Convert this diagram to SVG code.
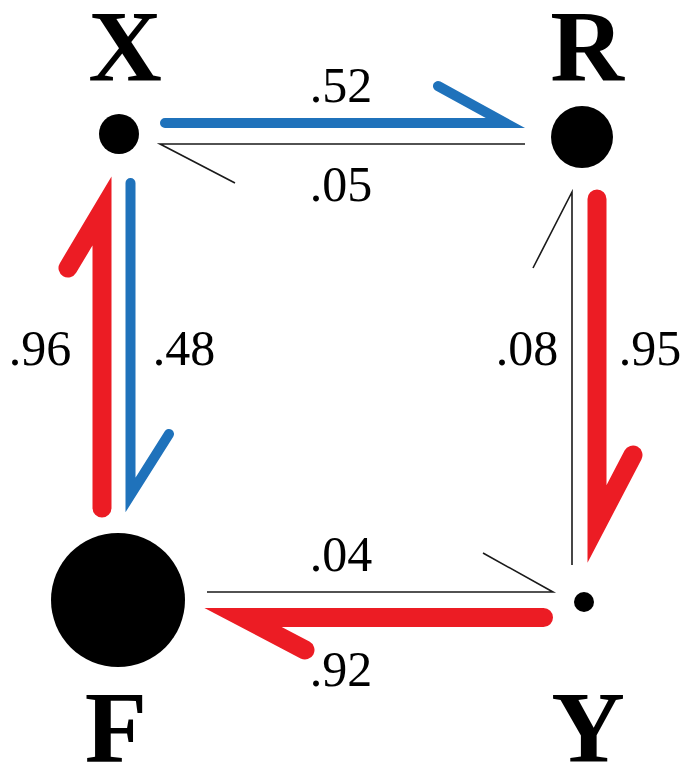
<svg xmlns="http://www.w3.org/2000/svg" width="686" height="768" viewBox="0 0 686 768">
<style>
.lbl{font-family:"Liberation Serif","DejaVu Serif",serif;font-weight:bold;font-size:102px;fill:#000;text-anchor:middle}
.num{font-family:"Liberation Serif","DejaVu Serif",serif;font-size:50px;fill:#000;text-anchor:middle}
.blue{fill:none;stroke:#1f72bb;stroke-width:10;stroke-linecap:round;stroke-linejoin:miter;stroke-miterlimit:10}
.red{fill:none;stroke:#ec1c24;stroke-width:19;stroke-linecap:round;stroke-linejoin:miter;stroke-miterlimit:10}
.thin{fill:none;stroke:#1a1a1a;stroke-width:1.6;stroke-linejoin:miter;stroke-miterlimit:20}
</style>
<rect width="686" height="768" fill="#fff"/>
<g id="node-X">
<circle cx="119" cy="134" r="20" fill="#000"/>
<text class="lbl" x="125" y="81">X</text>
</g>
<g id="node-R">
<circle cx="582" cy="137" r="31" fill="#000"/>
<text class="lbl" x="587" y="81">R</text>
</g>
<g id="node-F">
<circle cx="118" cy="600" r="67" fill="#000"/>
<text class="lbl" x="116" y="762">F</text>
</g>
<g id="node-Y">
<circle cx="584" cy="602" r="10" fill="#000"/>
<text class="lbl" x="588" y="762">Y</text>
</g>
<g id="connectors">
<path class="blue" d="M165 123 L505.5 123 L438 86"/>
<path class="thin" d="M525 144 L160 144 L235 183"/>
<path class="red" d="M597 199 L597 524 L633 455"/>
<path class="thin" d="M572 565 L572 192 L533 268"/>
<path class="red" d="M543.5 617.5 L243 617.5 L305 650"/>
<path class="thin" d="M207 592 L553 592 L483 553"/>
<path class="red" d="M102 508 L102 211 L68 268"/>
<path class="blue" d="M130.5 183 L130.5 495 L169 434"/>
</g>
<g id="labels">
<text class="num" x="341" y="102">.52</text>
<text class="num" x="341" y="201">.05</text>
<text class="num" x="40" y="365">.96</text>
<text class="num" x="184" y="365">.48</text>
<text class="num" x="527" y="365">.08</text>
<text class="num" x="650" y="365">.95</text>
<text class="num" x="341" y="571">.04</text>
<text class="num" x="341" y="686">.92</text>
</g>
</svg>
